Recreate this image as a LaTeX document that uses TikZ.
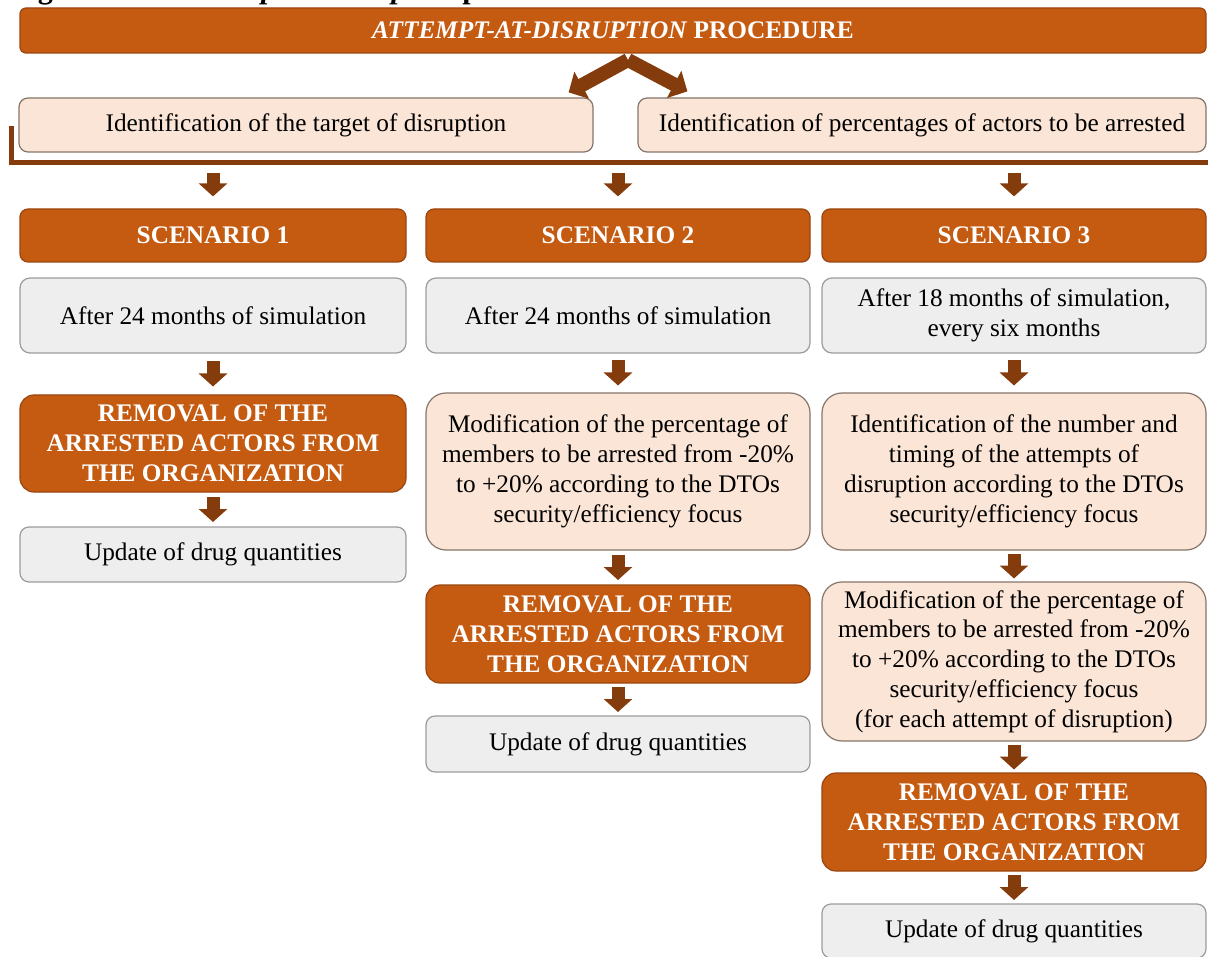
\documentclass[tikz,border=0pt]{standalone}
\usepackage{fontspec}
\setmainfont{Liberation Serif}
\usetikzlibrary{arrows.meta,calc}

\definecolor{rust}{HTML}{C55A11}
\definecolor{rustline}{HTML}{9A4510}
\definecolor{peach}{HTML}{FBE5D6}
\definecolor{peachline}{HTML}{86756A}
\definecolor{pale}{HTML}{EEEEEE}
\definecolor{paleline}{HTML}{9C9C9C}
\definecolor{bark}{HTML}{843C0C}

\newcommand{\bodyfont}{\fontsize{25.3}{29.8}\selectfont}

\tikzset{
  card/.style={inner sep=0pt, align=center, line width=1.2pt, font=\bodyfont},
  rustcard/.style={card, fill=rust, draw=rustline, text=white, font=\bodyfont\bfseries},
  peachcard/.style={card, fill=peach, draw=peachline},
  palecard/.style={card, fill=pale, draw=paleline},
  sz/.style 2 args={minimum width=#1pt, minimum height=#2pt},
  flow/.style={draw=bark, line width=13pt, -{Triangle[width=28pt,length=13pt]}},
  forkflow/.style={draw=bark, line width=14pt, -{Triangle[width=30pt,length=15pt]}},
  bracket/.style={draw=bark, line width=5pt, line join=miter},
}

% short block arrow centred in the gap between two stacked cards
\newcommand{\stepdown}[2]{%
  \draw[flow] ($(#1.south)!0.5!(#2.north)+(0,-12.5)$) -- ($(#1.south)!0.5!(#2.north)+(0,12.5)$);}

\begin{document}
\begin{tikzpicture}[x=1pt,y=-1pt]
\useasboundingbox (0,0) rectangle (1208,957);
\clip (0,0) rectangle (1208,957);

% caption line running off the top edge
\node[anchor=base west, inner sep=0pt, font=\fontsize{30}{36}\selectfont\bfseries] (caption)
  at (11,-1.5) {Figure 4. The \textit{attempt-at-disruption} procedure};

% header and the two identification steps
\node[rustcard, sz={1186}{45}, rounded corners=6pt] (banner) at (613,30.5)
  {\textit{ATTEMPT-AT-DISRUPTION} PROCEDURE};
\node[peachcard, sz={574}{54}, rounded corners=9pt] (idA) at (306,125)
  {Identification of the target of disruption};
\node[peachcard, sz={568}{54}, rounded corners=9pt] (idB) at (922,125)
  {Identification of percentages of actors to be arrested};

\coordinate (fork) at (628,60);
\draw[forkflow] (fork) -- ($(idA.north east)+(-25,-5)$);
\draw[forkflow] (fork) -- ($(idB.north west)+(50,-6)$);

% bracket gathering both steps
\coordinate (brkTop) at (11,126);
\coordinate (brkEnd) at (1212,163);
\draw[bracket] (brkTop) |- (brkEnd);

% scenario headers
\node[rustcard, sz={386}{53}, rounded corners=8pt] (s1) at (213,235.5) {SCENARIO 1};
\node[rustcard, sz={384}{53}, rounded corners=8pt] (s2) at (618,235.5) {SCENARIO 2};
\node[rustcard, sz={384}{53}, rounded corners=8pt] (s3) at (1014,235.5) {SCENARIO 3};

\foreach \s in {s1,s2,s3}
  \draw[flow, shorten <=10pt, shorten >=12pt] (\s.north |- brkEnd) -- (\s.north);

% scenario 1
\node[palecard, sz={386}{75}, rounded corners=10pt] (g1) at (213,315.5)
  {After 24 months of simulation};
\node[rustcard, sz={386}{97}, rounded corners=14pt] (r1) at (213,443.5)
  {REMOVAL OF THE\\ARRESTED ACTORS FROM\\THE ORGANIZATION};
\node[palecard, sz={386}{55}, rounded corners=9pt] (u1) at (213,554.5)
  {Update of drug quantities};
\stepdown{g1}{r1}
\stepdown{r1}{u1}

% scenario 2
\node[palecard, sz={384}{75}, rounded corners=10pt] (g2) at (618,315.5)
  {After 24 months of simulation};
\node[peachcard, sz={384}{157}, rounded corners=20pt] (m2) at (618,471.5)
  {Modification of the percentage of\\members to be arrested from -20\%\\to +20\% according to the DTOs\\security/efficiency focus};
\node[rustcard, sz={384}{98}, rounded corners=14pt] (r2) at (618,634)
  {REMOVAL OF THE\\ARRESTED ACTORS FROM\\THE ORGANIZATION};
\node[palecard, sz={384}{56}, rounded corners=9pt] (u2) at (618,744)
  {Update of drug quantities};
\stepdown{g2}{m2}
\stepdown{m2}{r2}
\stepdown{r2}{u2}

% scenario 3
\node[palecard, sz={384}{75}, rounded corners=10pt] (g3) at (1014,315.5)
  {After 18 months of simulation,\\every six months};
\node[peachcard, sz={384}{157}, rounded corners=20pt] (n3) at (1014,471.5)
  {Identification of the number and\\timing of the attempts of\\disruption according to the DTOs\\security/efficiency focus};
\node[peachcard, sz={384}{159}, rounded corners=20pt] (m3) at (1014,661.5)
  {Modification of the percentage of\\members to be arrested from -20\%\\to +20\% according to the DTOs\\security/efficiency focus\\(for each attempt of disruption)};
\node[rustcard, sz={384}{98}, rounded corners=14pt] (r3) at (1014,822)
  {REMOVAL OF THE\\ARRESTED ACTORS FROM\\THE ORGANIZATION};
\node[palecard, sz={384}{54}, rounded corners=9pt] (u3) at (1014,931)
  {Update of drug quantities};
\stepdown{g3}{n3}
\stepdown{n3}{m3}
\stepdown{m3}{r3}
\stepdown{r3}{u3}

\end{tikzpicture}
\end{document}
